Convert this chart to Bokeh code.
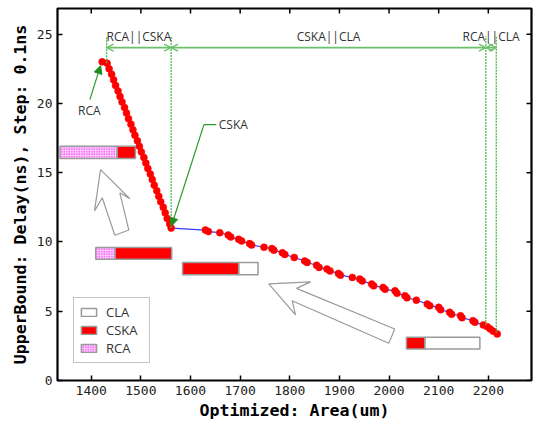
import math
from bokeh.plotting import figure
from bokeh.models import (Range1d, FixedTicker, Arrow, OpenHead, NormalHead,
                          Legend, LegendItem, ColumnDataSource)
from bokeh.embed import file_html
from bokeh.resources import INLINE
from bokeh.core.properties import value

# ---------------- data ----------------
x_ticks = [1400, 1500, 1600, 1700, 1800, 1900, 2000, 2100, 2200]
y_ticks = [0, 5, 10, 15, 20, 25]
x_lo, x_hi = 1332, 2287
y_lo, y_hi = 0, 26.85

# Pareto curve: area (um) vs upper-bound delay (ns)
area = [1422, 1432, 1436, 1441, 1445, 1449, 1454, 1458, 1462, 1467, 1471, 1475, 1480,
        1484, 1488, 1493, 1497, 1501, 1506, 1510, 1514, 1519, 1523, 1527, 1532, 1536,
        1540, 1545, 1549, 1553, 1558, 1561,
        1630, 1636, 1659, 1676, 1681, 1697, 1703, 1719, 1723, 1748, 1764, 1768, 1785,
        1790, 1809, 1830, 1835, 1854, 1859, 1875, 1881, 1898, 1902, 1926, 1941, 1946,
        1965, 1969, 1988, 1992, 2012, 2016, 2032, 2036, 2055, 2077, 2082, 2100, 2104,
        2122, 2126, 2144, 2147, 2169, 2173, 2190, 2198, 2204, 2210, 2218]
delay = [23.0, 22.9, 22.5, 22.1, 21.7, 21.3, 20.9, 20.5, 20.1, 19.7, 19.3, 18.9, 18.5,
         18.1, 17.7, 17.3, 16.9, 16.5, 16.1, 15.7, 15.3, 14.9, 14.5, 14.1, 13.7, 13.3,
         12.9, 12.5, 12.1, 11.7, 11.3, 11.0,
         10.86, 10.75, 10.67, 10.50, 10.36, 10.19, 10.07, 9.88, 9.78, 9.62, 9.52, 9.41, 9.22,
         9.10, 8.88, 8.63, 8.52, 8.32, 8.16, 8.04, 7.91, 7.73, 7.60, 7.44, 7.32, 7.19,
         6.96, 6.83, 6.72, 6.58, 6.47, 6.29, 6.12, 5.97, 5.80, 5.52, 5.40, 5.28, 5.11,
         4.92, 4.78, 4.68, 4.53, 4.32, 4.20, 4.01, 3.88, 3.72, 3.55, 3.36]

# composition bars (adder mix)
bar_bottom = [16.02, 8.76, 7.63, 2.28]
bar_top = [16.90, 9.60, 8.52, 3.12]
rca_left, rca_right, rca_bar = [1337, 1409], [1452, 1448], [0, 1]
cska_left, cska_right, cska_bar = [1452, 1448, 1584, 2035], [1489, 1562, 1697, 2072], [0, 1, 2, 3]
cla_left, cla_right, cla_bar = [1697, 2072], [1736, 2183], [2, 3]

# region boundaries (transition points on the curve)
bound_x = [1431, 1561, 2195, 2216]
bound_y = [22.9, 11.0, 4.0, 3.45]
region_labels = ["RCA||CSKA", "CSKA||CLA", "RCA||CLA"]
dim_y = 24.03
label_y = 24.85

# hollow arrows (outline polygons)
arrow_up_x = [1418.7, 1477.8, 1457.6, 1475.7, 1447.5, 1422.2, 1406.6]
arrow_up_y = [15.22, 13.12, 13.55, 10.86, 10.48, 13.19, 12.24]
arrow_left_x = [1757.7, 1841.7, 1813.5, 2011.5, 1999.4, 1804.8, 1811.5]
arrow_left_y = [6.97, 7.12, 6.65, 3.72, 2.69, 5.76, 4.73]

# ---------------- figure ----------------
GREEN = "#6cc06c"
VGREEN = "#4cb84c"
DGREEN = "#1e8c1e"
GRAY = "#9a9a9a"

p = figure(width=533, height=422, output_backend="svg", toolbar_location=None,
           x_range=Range1d(x_lo, x_hi), y_range=Range1d(y_lo, y_hi),
           min_border_left=57, min_border_right=2, min_border_top=8, min_border_bottom=40)
p.xgrid.visible = False
p.ygrid.visible = False
p.outline_line_color = "black"
p.outline_line_width = 2.2
p.outline_line_alpha = 1

for ax, ticks in ((p.xaxis[0], x_ticks), (p.yaxis[0], y_ticks)):
    ax.ticker = FixedTicker(ticks=ticks)
    ax.axis_line_color = None
    ax.major_tick_in = 5
    ax.major_tick_out = 0
    ax.major_tick_line_color = "black"
    ax.major_tick_line_width = 1.5
    ax.minor_tick_line_color = None
    ax.major_label_text_font = "DejaVu Sans Mono"
    ax.major_label_text_font_size = "13px"
    ax.major_label_text_color = "#222222"
    ax.major_label_standoff = 5
    ax.axis_label_text_font = "DejaVu Sans Mono"
    ax.axis_label_text_font_style = "bold"
    ax.axis_label_text_font_size = "16.6px"
    ax.axis_label_text_color = "black"
p.xaxis[0].axis_label = "Optimized: Area(um)"
p.xaxis[0].axis_label_standoff = 3
p.yaxis[0].axis_label = "UpperBound: Delay(ns), Step: 0.1ns"
p.yaxis[0].axis_label_standoff = 4

# mirrored inward ticks on top and right (half of each dash is clipped by the frame)
p.scatter(x=x_ticks, y=[y_hi] * len(x_ticks), marker="dash", size=10, angle=math.pi / 2,
          line_color="black", line_width=1.5)
p.scatter(x=[x_hi] * len(y_ticks), y=y_ticks, marker="dash", size=10,
          line_color="black", line_width=1.5)

# hollow arrows
p.patch(arrow_up_x, arrow_up_y, fill_color="white", line_color=GRAY, line_width=1.2)
p.patch(arrow_left_x, arrow_left_y, fill_color="white", line_color=GRAY, line_width=1.2)

# composition bars
r_cla = p.quad(left=cla_left, right=cla_right,
               bottom=[bar_bottom[i] for i in cla_bar], top=[bar_top[i] for i in cla_bar],
               fill_color="white", line_color=GRAY, line_width=1.5)
r_cska = p.quad(left=cska_left, right=cska_right,
                bottom=[bar_bottom[i] for i in cska_bar], top=[bar_top[i] for i in cska_bar],
                fill_color="red", line_color=GRAY, line_width=1.5)
r_rca = p.quad(left=rca_left, right=rca_right,
               bottom=[bar_bottom[i] for i in rca_bar], top=[bar_top[i] for i in rca_bar],
               fill_color="#ffccff", line_color=GRAY, line_width=1.5,
               hatch_pattern="dot", hatch_color="#ee00ee", hatch_scale=2.5, hatch_weight=1.2)

# curve
p.line(area, delay, line_color="#3a3aff", line_width=1.2)
p.scatter(area, delay, size=7, fill_color="red", line_color="red", line_width=0.5)

# region boundaries: vertical dotted lines
p.segment(x0=bound_x, y0=bound_y, x1=bound_x, y1=[label_y] * len(bound_x),
          line_color=VGREEN, line_width=1.3, line_dash="2 1")

# dimension arrows
dim_src = ColumnDataSource(dict(x0=bound_x[:-1], x1=bound_x[1:],
                                y=[dim_y] * (len(bound_x) - 1)))
p.add_layout(Arrow(start=OpenHead(size=7, line_color=GREEN, line_width=1.3),
                   end=OpenHead(size=7, line_color=GREEN, line_width=1.3),
                   x_start="x0", y_start="y", x_end="x1", y_end="y", source=dim_src,
                   line_color=GREEN, line_width=1.8))
mid_x = [(a + b) / 2 for a, b in zip(bound_x[:-1], bound_x[1:])]
p.text(x=mid_x, y=[label_y] * len(mid_x), text=region_labels,
       text_font=value("Open Sans"), text_font_size="12px", text_color="#333333",
       text_align="center", text_baseline="alphabetic")

# pointer labels
p.text(x=[1396], y=[19.47], text=["RCA"], text_font=value("Open Sans"),
       text_font_size="12px", text_color="#333333", text_align="center",
       text_baseline="middle")
p.add_layout(Arrow(end=NormalHead(size=8, fill_color=DGREEN, line_color=DGREEN),
                   x_start=1397.2, y_start=20.27, x_end=1418.7, y_end=22.73,
                   line_color="#2a9a2a", line_width=1.2))
p.text(x=[1657], y=[18.47], text=["CSKA"], text_font=value("Open Sans"),
       text_font_size="12px", text_color="#333333", text_align="left",
       text_baseline="middle")
p.line([1652, 1627], [18.47, 18.47], line_color="#2a9a2a", line_width=1.2)
p.add_layout(Arrow(end=NormalHead(size=8, fill_color=DGREEN, line_color=DGREEN),
                   x_start=1627, y_start=18.47, x_end=1561.5, y_end=11.15,
                   line_color="#2a9a2a", line_width=1.2))

# legend
legend = Legend(items=[LegendItem(label="CLA", renderers=[r_cla]),
                       LegendItem(label="CSKA", renderers=[r_cska]),
                       LegendItem(label="RCA", renderers=[r_rca])],
                location=(16, 17), orientation="vertical",
                label_text_font="Open Sans", label_text_font_size="13px",
                label_text_color="#333333", glyph_width=19, glyph_height=10,
                label_height=14, label_width=38, label_standoff=8, spacing=0,
                padding=5, margin=0,
                border_line_color="#888888", border_line_width=1.5,
                background_fill_color="white", background_fill_alpha=1)
p.add_layout(legend, "center")

open("out.html", "w").write(file_html(p, INLINE))
